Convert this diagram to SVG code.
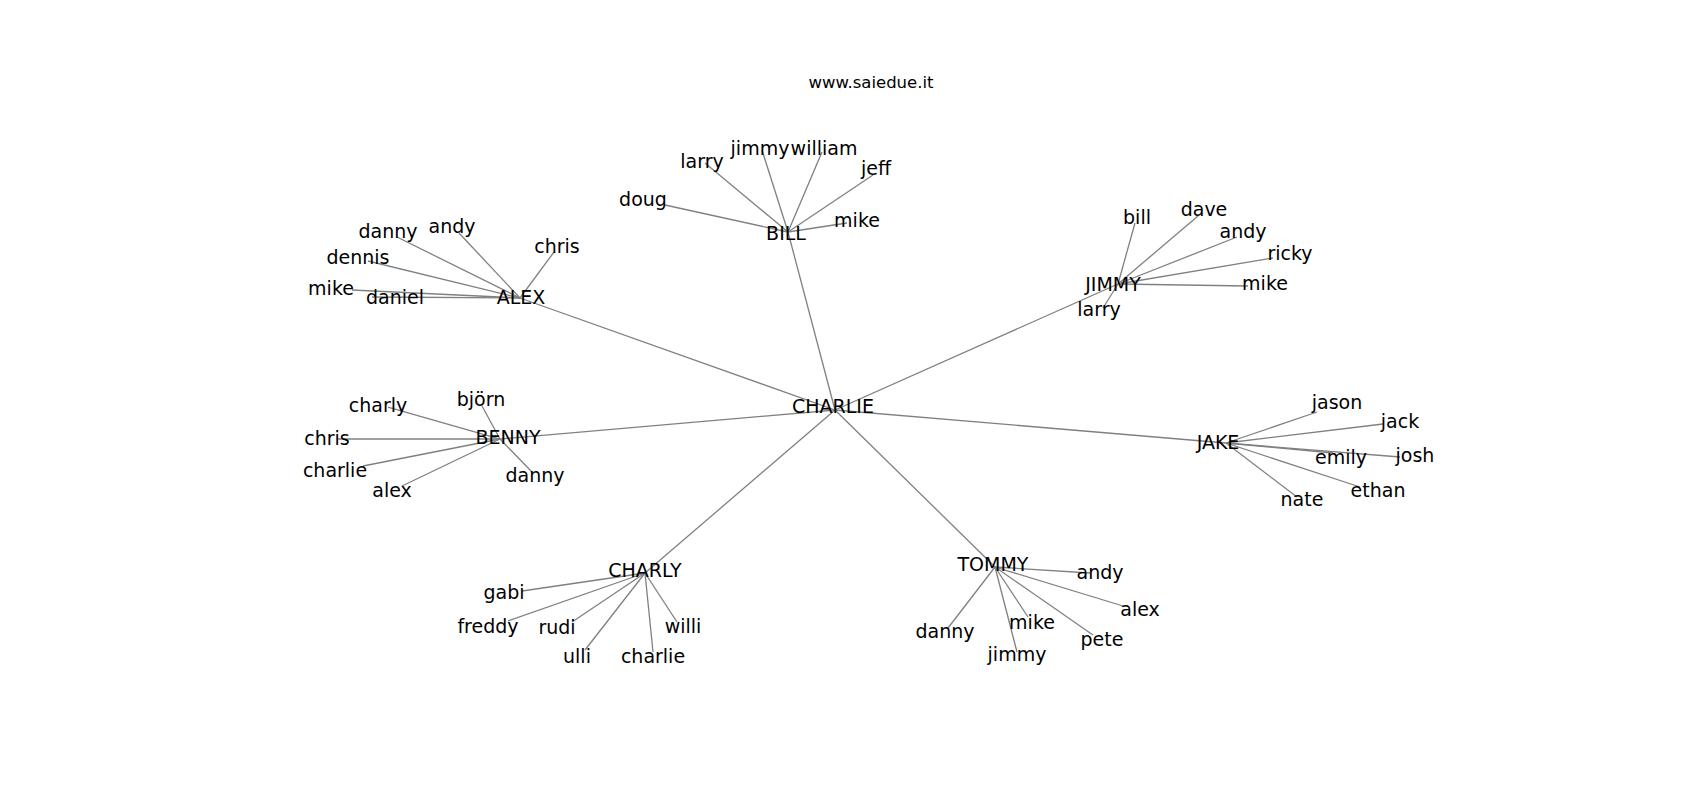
<svg xmlns="http://www.w3.org/2000/svg" width="1700" height="800" viewBox="0 0 1700 800">
<style>
.bg{fill:#ffffff}
.e{stroke:#808080;stroke-width:1.3;fill:none}
.t{font-family:"DejaVu Sans","Liberation Sans",sans-serif;font-size:19px;fill:#000000;text-anchor:middle}
.title{font-family:"DejaVu Sans","Liberation Sans",sans-serif;font-size:16.5px;fill:#000000;text-anchor:middle}
</style>
<rect class="bg" x="0" y="0" width="1700" height="800"/>
<text class="title" x="871" y="88">www.saiedue.it</text>
<g id="connectors">
<line class="e" x1="835" y1="410" x2="788" y2="232"/>
<line class="e" x1="835" y1="410" x2="520" y2="298"/>
<line class="e" x1="835" y1="410" x2="1118" y2="284"/>
<line class="e" x1="835" y1="410" x2="1226" y2="443"/>
<line class="e" x1="835" y1="410" x2="500" y2="439"/>
<line class="e" x1="835" y1="410" x2="645" y2="573"/>
<line class="e" x1="835" y1="410" x2="995" y2="567"/>
<line class="e" x1="788" y1="232" x2="665" y2="205"/>
<line class="e" x1="788" y1="232" x2="705" y2="163"/>
<line class="e" x1="788" y1="232" x2="762" y2="150"/>
<line class="e" x1="788" y1="232" x2="822" y2="152"/>
<line class="e" x1="788" y1="232" x2="873" y2="175"/>
<line class="e" x1="788" y1="232" x2="847" y2="223"/>
<line class="e" x1="520" y1="298" x2="397" y2="237"/>
<line class="e" x1="520" y1="298" x2="459" y2="233"/>
<line class="e" x1="520" y1="298" x2="554" y2="252"/>
<line class="e" x1="520" y1="298" x2="368" y2="261"/>
<line class="e" x1="520" y1="298" x2="352" y2="290"/>
<line class="e" x1="520" y1="298" x2="372" y2="297"/>
<line class="e" x1="1118" y1="284" x2="1135" y2="223"/>
<line class="e" x1="1118" y1="284" x2="1198" y2="216"/>
<line class="e" x1="1118" y1="284" x2="1237" y2="237"/>
<line class="e" x1="1118" y1="284" x2="1273" y2="258"/>
<line class="e" x1="1118" y1="284" x2="1248" y2="286"/>
<line class="e" x1="1118" y1="284" x2="1103" y2="308"/>
<line class="e" x1="1226" y1="443" x2="1317" y2="412"/>
<line class="e" x1="1226" y1="443" x2="1383" y2="424"/>
<line class="e" x1="1226" y1="443" x2="1333" y2="453"/>
<line class="e" x1="1226" y1="443" x2="1400" y2="457"/>
<line class="e" x1="1226" y1="443" x2="1360" y2="487"/>
<line class="e" x1="1226" y1="443" x2="1297" y2="497"/>
<line class="e" x1="500" y1="439" x2="482" y2="406"/>
<line class="e" x1="500" y1="439" x2="388" y2="407"/>
<line class="e" x1="500" y1="439" x2="338" y2="439"/>
<line class="e" x1="500" y1="439" x2="363" y2="466"/>
<line class="e" x1="500" y1="439" x2="402" y2="486"/>
<line class="e" x1="500" y1="439" x2="532" y2="472"/>
<line class="e" x1="645" y1="573" x2="522" y2="591"/>
<line class="e" x1="645" y1="573" x2="508" y2="621"/>
<line class="e" x1="645" y1="573" x2="572" y2="622"/>
<line class="e" x1="645" y1="573" x2="585" y2="650"/>
<line class="e" x1="645" y1="573" x2="653" y2="652"/>
<line class="e" x1="645" y1="573" x2="677" y2="622"/>
<line class="e" x1="995" y1="567" x2="1090" y2="573"/>
<line class="e" x1="995" y1="567" x2="1123" y2="606"/>
<line class="e" x1="995" y1="567" x2="1028" y2="617"/>
<line class="e" x1="995" y1="567" x2="1093" y2="635"/>
<line class="e" x1="995" y1="567" x2="948" y2="628"/>
<line class="e" x1="995" y1="567" x2="1017" y2="652"/>
</g>
<g id="CHARLIE"><text class="t" x="833" y="413">CHARLIE</text></g>
<g id="BILL"><text class="t" x="786" y="240">BILL</text></g>
<g id="BILL-doug"><text class="t" x="643" y="206">doug</text></g>
<g id="BILL-larry"><text class="t" x="702" y="168">larry</text></g>
<g id="BILL-jimmy"><text class="t" x="760" y="155">jimmy</text></g>
<g id="BILL-william"><text class="t" x="824" y="155">william</text></g>
<g id="BILL-jeff"><text class="t" x="876" y="175">jeff</text></g>
<g id="BILL-mike"><text class="t" x="857" y="227">mike</text></g>
<g id="ALEX"><text class="t" x="521" y="304">ALEX</text></g>
<g id="ALEX-danny"><text class="t" x="388" y="238">danny</text></g>
<g id="ALEX-andy"><text class="t" x="452" y="233">andy</text></g>
<g id="ALEX-chris"><text class="t" x="557" y="253">chris</text></g>
<g id="ALEX-dennis"><text class="t" x="358" y="264">dennis</text></g>
<g id="ALEX-mike"><text class="t" x="331" y="295">mike</text></g>
<g id="ALEX-daniel"><text class="t" x="395" y="304">daniel</text></g>
<g id="JIMMY"><text class="t" x="1113" y="291">JIMMY</text></g>
<g id="JIMMY-bill"><text class="t" x="1137" y="224">bill</text></g>
<g id="JIMMY-dave"><text class="t" x="1204" y="216">dave</text></g>
<g id="JIMMY-andy"><text class="t" x="1243" y="238">andy</text></g>
<g id="JIMMY-ricky"><text class="t" x="1290" y="260">ricky</text></g>
<g id="JIMMY-mike"><text class="t" x="1265" y="290">mike</text></g>
<g id="JIMMY-larry"><text class="t" x="1099" y="316">larry</text></g>
<g id="JAKE"><text class="t" x="1218" y="449">JAKE</text></g>
<g id="JAKE-jason"><text class="t" x="1337" y="409">jason</text></g>
<g id="JAKE-jack"><text class="t" x="1400" y="428">jack</text></g>
<g id="JAKE-emily"><text class="t" x="1341" y="464">emily</text></g>
<g id="JAKE-josh"><text class="t" x="1415" y="462">josh</text></g>
<g id="JAKE-ethan"><text class="t" x="1378" y="497">ethan</text></g>
<g id="JAKE-nate"><text class="t" x="1302" y="506">nate</text></g>
<g id="BENNY"><text class="t" x="508" y="444">BENNY</text></g>
<g id="BENNY-bjorn"><text class="t" x="481" y="406">björn</text></g>
<g id="BENNY-charly"><text class="t" x="378" y="412">charly</text></g>
<g id="BENNY-chris"><text class="t" x="327" y="445">chris</text></g>
<g id="BENNY-charlie"><text class="t" x="335" y="477">charlie</text></g>
<g id="BENNY-alex"><text class="t" x="392" y="497">alex</text></g>
<g id="BENNY-danny"><text class="t" x="535" y="482">danny</text></g>
<g id="CHARLY"><text class="t" x="645" y="577">CHARLY</text></g>
<g id="CHARLY-gabi"><text class="t" x="504" y="599">gabi</text></g>
<g id="CHARLY-freddy"><text class="t" x="488" y="633">freddy</text></g>
<g id="CHARLY-rudi"><text class="t" x="557" y="634">rudi</text></g>
<g id="CHARLY-ulli"><text class="t" x="577" y="663">ulli</text></g>
<g id="CHARLY-charlie"><text class="t" x="653" y="663">charlie</text></g>
<g id="CHARLY-willi"><text class="t" x="683" y="633">willi</text></g>
<g id="TOMMY"><text class="t" x="993" y="571">TOMMY</text></g>
<g id="TOMMY-andy"><text class="t" x="1100" y="579">andy</text></g>
<g id="TOMMY-alex"><text class="t" x="1140" y="616">alex</text></g>
<g id="TOMMY-mike"><text class="t" x="1032" y="629">mike</text></g>
<g id="TOMMY-pete"><text class="t" x="1102" y="646">pete</text></g>
<g id="TOMMY-danny"><text class="t" x="945" y="638">danny</text></g>
<g id="TOMMY-jimmy"><text class="t" x="1017" y="661">jimmy</text></g>
</svg>
